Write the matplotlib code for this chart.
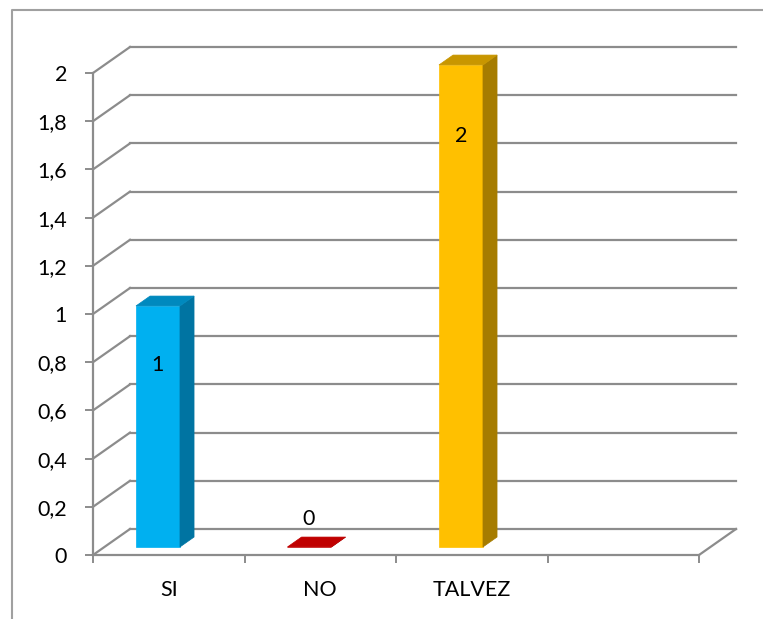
import numpy as np
import matplotlib
matplotlib.use('Agg')
import matplotlib.pyplot as plt
from matplotlib.patches import Polygon
from matplotlib.lines import Line2D

plt.rcParams['font.family'] = ['Lato', 'DejaVu Sans']

# datos
categorias = ['SI', 'NO', 'TALVEZ', '']
valores = [1, 0, 2, np.nan]
ticks_y = [0, 0.2, 0.4, 0.6, 0.8, 1, 1.2, 1.4, 1.6, 1.8, 2]

# colores (frente, lado, arriba)
col_frente = ['#00B0F0', '#C00000', '#FFC000', '#FFFFFF']
col_lado = ['#0074A2', '#800000', '#A67C00', '#FFFFFF']
col_arriba = ['#0089BE', '#C00000', '#C89600', '#FFFFFF']

gris = '#8C8C8C'

# proyeccion "3D": desplazamiento de profundidad en unidades de datos
W, H = 763, 619
px_cat = 151.5
px_val = 241.0
DX = 37 / px_cat
DY = 26 / px_val
n = len(categorias)
ymax = max(ticks_y)

fig = plt.figure(figsize=(W / 100, H / 100), dpi=100)
ax = fig.add_axes([93 / W, (H - 555) / H, (n * px_cat + 37) / W, (ymax * px_val + 26) / H])
ax.set_xlim(0, n + DX)
ax.set_ylim(0, ymax + DY)
for s in ax.spines.values():
    s.set_visible(False)

# paredes y rejilla
for v in ticks_y:
    ax.plot([DX, n + DX], [v + DY, v + DY], color=gris, lw=1.6, clip_on=False, zorder=1)
    ax.plot([0, DX], [v, v + DY], color=gris, lw=1.6, clip_on=False, zorder=1)
ax.plot([0, n], [0, 0], color=gris, lw=1.6, clip_on=False, zorder=1)
ax.plot([n, n + DX], [0, DY], color=gris, lw=1.6, clip_on=False, zorder=1)
ax.plot([0, 0], [0, ymax], color=gris, lw=1.6, clip_on=False, zorder=1)

# barras
d0, d1 = 0.31, 0.69
x_off, ancho = 0.208, 44 / px_cat


def punto(x, y, d):
    return (x + d * DX, y + d * DY)


for i, v in enumerate(valores):
    if np.isnan(v):
        continue
    x0 = i + x_off
    x1 = x0 + ancho
    frente = [punto(x0, 0, d0), punto(x1, 0, d0), punto(x1, v, d0), punto(x0, v, d0)]
    lado = [punto(x1, 0, d0), punto(x1, 0, d1), punto(x1, v, d1), punto(x1, v, d0)]
    arriba = [punto(x0, v, d0), punto(x1, v, d0), punto(x1, v, d1), punto(x0, v, d1)]
    for pts, c in [(frente, col_frente[i]), (lado, col_lado[i]), (arriba, col_arriba[i])]:
        ax.add_patch(Polygon(pts, closed=True, facecolor=c, edgecolor=c, lw=0.5, zorder=3, clip_on=False))
    xc, yc = punto((x0 + x1) / 2, v, d0)
    if v > 0:
        ax.annotate(f'{v:g}', (xc, yc), xytext=(0, -(34 + 8.5 * v)), textcoords='offset points',
                    ha='center', va='center', fontsize=15.5, zorder=5)
    else:
        ax.annotate(f'{v:g}', (xc, yc), xytext=(-1, 20), textcoords='offset points',
                    ha='center', va='center', fontsize=15.5, zorder=5)

# ejes
ax.set_yticks(ticks_y)
ax.set_yticklabels([f'{t:g}'.replace('.', ',') for t in ticks_y])
ax.tick_params(axis='y', direction='out', length=5.8, width=1.4, color=gris, pad=13, labelsize=15.5)
ax.set_xticks(range(n + 1))
ax.set_xticklabels([])
ax.set_xticks(np.arange(n) + 0.5, minor=True)
ax.set_xticklabels(categorias, minor=True)
ax.tick_params(axis='x', which='major', direction='out', length=5.8, width=1.4, color=gris)
ax.tick_params(axis='x', which='minor', length=0, pad=18, labelsize=15.5)

# marco exterior
fig.add_artist(Line2D([12 / W, 12 / W, 1.0], [0, 1 - 10 / H, 1 - 10 / H],
                      transform=fig.transFigure, color='#A0A0A0', lw=1.5))

fig.savefig('out.png', dpi=100)
